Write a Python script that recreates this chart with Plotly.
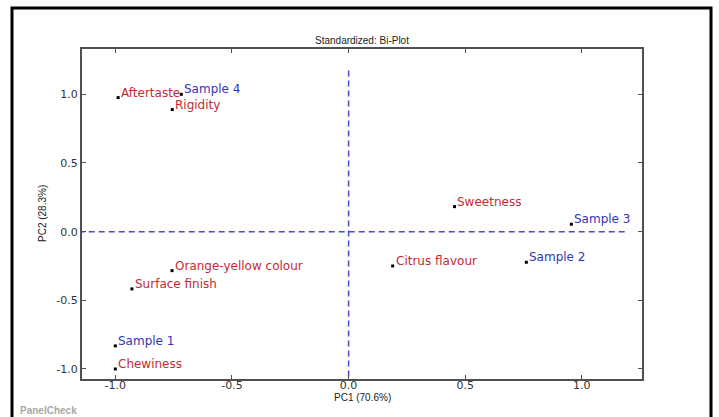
import plotly.graph_objects as go

# Attribute loadings (red) and sample scores (blue)
attr_names = ["Aftertaste", "Rigidity", "Sweetness", "Citrus flavour",
              "Orange-yellow colour", "Surface finish", "Chewiness"]
attr_pc1 = [-0.988, -0.756, 0.454, 0.189, -0.757, -0.929, -1.0]
attr_pc2 = [0.976, 0.889, 0.182, -0.25, -0.284, -0.417, -1.0]

sample_names = ["Sample 1", "Sample 2", "Sample 3", "Sample 4"]
sample_pc1 = [-1.0, 0.762, 0.955, -0.717]
sample_pc2 = [-0.832, -0.223, 0.054, 1.0]

x_ticks = [-1.0, -0.5, 0.0, 0.5, 1.0]
y_ticks = [-1.0, -0.5, 0.0, 0.5, 1.0]

RED = "#c42a34"
BLUE = "#3535b5"
AX = "#505050"

fig = go.Figure()

# reference lines
fig.add_shape(type="line", x0=-1.2, x1=1.2, y0=0, y1=0, xref="x", yref="y",
              line=dict(color="#4a4ad0", width=1.5, dash="6px,4px"), layer="below")
fig.add_shape(type="line", x0=0, x1=0, y0=-1.2, y1=1.2, xref="x", yref="y",
              line=dict(color="#4a4ad0", width=1.5, dash="6px,4px"), layer="below")

fig.add_trace(go.Scatter(x=attr_pc1, y=attr_pc2, mode="markers",
                         marker=dict(symbol="square", size=3, color="black"),
                         hoverinfo="text", text=attr_names, showlegend=False))
fig.add_trace(go.Scatter(x=sample_pc1, y=sample_pc2, mode="markers",
                         marker=dict(symbol="square", size=3, color="black"),
                         hoverinfo="text", text=sample_names, showlegend=False))

for n, x, y in zip(attr_names, attr_pc1, attr_pc2):
    fig.add_annotation(x=x, y=y, xref="x", yref="y", text=n, showarrow=False,
                       xanchor="left", yanchor="middle", xshift=1, yshift=5,
                       font=dict(family="DejaVu Sans", size=12, color=RED))
for n, x, y in zip(sample_names, sample_pc1, sample_pc2):
    fig.add_annotation(x=x, y=y, xref="x", yref="y", text=n, showarrow=False,
                       xanchor="left", yanchor="middle", xshift=1, yshift=5,
                       font=dict(family="DejaVu Sans", size=12, color=BLUE))

# title, axis titles, watermark
fig.add_annotation(x=0.5, y=1, xref="paper", yref="paper", yshift=9,
                   text="Standardized: Bi-Plot", showarrow=False,
                   xanchor="center", yanchor="middle",
                   font=dict(family="Liberation Sans", size=10, color="#222"))
fig.add_annotation(x=0.5, y=0, xref="paper", yref="paper", yshift=-18,
                   text="PC1 (70.6%)", showarrow=False,
                   xanchor="center", yanchor="middle",
                   font=dict(family="Liberation Sans", size=10, color="#222"))
fig.add_annotation(x=0, y=0.5, xref="paper", yref="paper", xshift=-40,
                   text="PC2 (28.3%)", showarrow=False, textangle=-90,
                   xanchor="center", yanchor="middle",
                   font=dict(family="Liberation Sans", size=10, color="#222"))
fig.add_annotation(x=(18 - 82) / 560, y=(379 - 410) / 330, xref="paper", yref="paper",
                   text="<b>PanelCheck</b>", showarrow=False,
                   xanchor="left", yanchor="middle",
                   font=dict(family="Liberation Sans", size=10, color="#a8a8a8"))

# outer frame
fig.add_shape(type="path", xref="paper", yref="paper",
              path="M %f %f L %f %f L %f %f L %f %f" % (
                  (12 - 82) / 560, -0.2, (12 - 82) / 560, 1 + (49 - 8) / 330,
                  (711 - 82) / 560, 1 + (49 - 8) / 330, (711 - 82) / 560, -0.2),
              line=dict(color="black", width=3))

axis_common = dict(showgrid=False, zeroline=False, showline=True, linecolor=AX,
                   linewidth=2, mirror="allticks", ticks="inside", ticklen=4,
                   tickcolor=AX, tickwidth=1,
                   tickfont=dict(family="DejaVu Sans", size=11, color="#333"))

fig.update_layout(
    width=719, height=417,
    margin=dict(l=82, r=77, t=49, b=38),
    paper_bgcolor="white", plot_bgcolor="white",
    xaxis=dict(range=[-1.143, 1.258], tickvals=x_ticks, ticklabelstandoff=-5,
               ticktext=["%.1f" % v for v in x_ticks], **axis_common),
    yaxis=dict(range=[-1.073, 1.33], tickvals=y_ticks,
               ticktext=["%.1f" % v for v in y_ticks], **axis_common),
    showlegend=False,
)

fig.write_html("out.html", config={"displayModeBar": False},
               post_script="document.body.style.margin='0';document.body.style.overflow='hidden';")
